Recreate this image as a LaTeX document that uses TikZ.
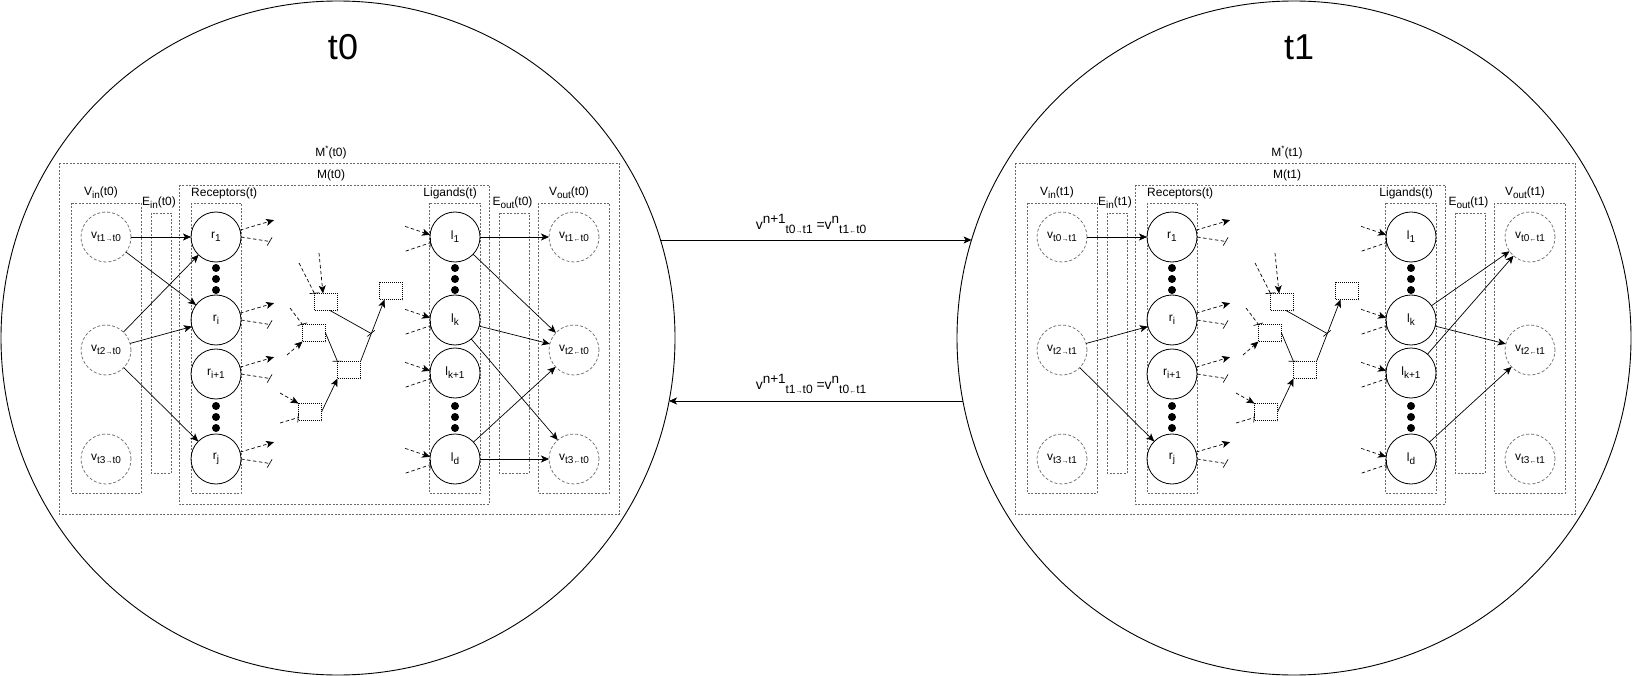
\documentclass[tikz,border=0pt]{standalone}
\usepackage{fontspec}
\setmainfont{Liberation Sans}
\usetikzlibrary{arrows.meta,calc}
\definecolor{boxgray}{RGB}{105,105,105}
\definecolor{vgray}{RGB}{120,120,120}
\newcommand\mysub[1]{\raisebox{-3pt}{\fontsize{10}{10}\selectfont #1}}
\newcommand\mysup[1]{\raisebox{4.5pt}{\fontsize{10}{10}\selectfont #1}}
\newcommand\bigsub[1]{\raisebox{-4pt}{\fontsize{12}{12}\selectfont #1}}
\newcommand\bigsup[1]{\raisebox{5.5pt}{\fontsize{13.5}{13.5}\selectfont #1}}
\newcommand\myrarr{{\fontsize{7}{7}\selectfont →}}
\newcommand\mylarr{{\fontsize{7}{7}\selectfont ←}}
\tikzset{
  myarr/.tip={Stealth[length=8pt,width=7pt,inset=2pt]},
  mytee/.tip={Bar[width=9pt,slant=0.4]},
  bigc/.style={circle,draw,line width=0.9pt,minimum size=674pt,inner sep=0pt,outer sep=0pt},
  grpbox/.style={draw=boxgray,line width=0.6pt,dash pattern=on 2pt off 1.5pt},
  vnode/.style={circle,draw=vgray,line width=0.8pt,dash pattern=on 3pt off 2pt,minimum size=50pt,inner sep=0pt,outer sep=0pt},
  mnode/.style={circle,draw,line width=0.8pt,minimum size=50pt,inner sep=0pt,outer sep=0pt},
  sbox/.style={draw,line width=0.7pt,dash pattern=on 1pt off 1pt,minimum width=23pt,minimum height=17pt,inner sep=0pt,outer sep=0pt},
  dotn/.style={circle,fill,inner sep=0pt,minimum size=8pt},
  edge/.style={line width=0.7pt},
  stub/.style={line width=0.7pt,dash pattern=on 3.5pt off 2.5pt},
  lbl/.style={inner sep=0pt},
}
% #1 prefix, #2 own time, #3 first other time, #4 xshift
\newcommand\halfpic[4]{%
\begin{scope}[xshift=#4]
\node[bigc] (#1circ) at (338,338) {};
\node[lbl] (#1title) at (343,47) {\fontsize{36}{40}\selectfont #2};
\draw[grpbox] (59,163) rectangle (619,514);
\node[lbl] (#1Mslab) at (331,152) {M\raisebox{5pt}{\fontsize{8}{8}\selectfont *}(#2)};
\draw[grpbox] (179,185) rectangle (489,504);
\node[lbl] (#1Mlab) at (331,175) {M(#2)};
\draw[grpbox] (71,203) rectangle (141,493);
\node[lbl] (#1Vinlab) at (101,193) {V\mysub{in}(#2)};
\draw[grpbox] (151,213) rectangle (171,473);
\node[lbl] (#1Einlab) at (159,203) {E\mysub{in}(#2)};
\draw[grpbox] (191,203) rectangle (241,493);
\node[lbl,anchor=west] (#1reclab) at (191,193) {Receptors(t)};
\draw[grpbox] (429,203) rectangle (480,493);
\node[lbl,anchor=east] (#1liglab) at (477,193) {Ligands(t)};
\draw[grpbox] (499,213) rectangle (529,473);
\node[lbl] (#1Eoutlab) at (512.5,203) {E\mysub{out}(#2)};
\draw[grpbox] (538,203) rectangle (609,493);
\node[lbl] (#1Voutlab) at (569,193) {V\mysub{out}(#2)};
% input / output variable nodes
\node[vnode] (#1v1) at (106,237) {v\mysub{#3\myrarr #2}};
\node[vnode] (#1v2) at (106,350) {v\mysub{t2\myrarr #2}};
\node[vnode] (#1v3) at (106,459) {v\mysub{t3\myrarr #2}};
\node[vnode] (#1vo1) at (574,237) {v\mysub{#3\mylarr #2}};
\node[vnode] (#1vo2) at (574,350) {v\mysub{t2\mylarr #2}};
\node[vnode] (#1vo3) at (574,459) {v\mysub{t3\mylarr #2}};
% receptors
\node[mnode] (#1r1) at (216,237) {r\mysub{1}};
\node[mnode] (#1ri) at (216,320) {r\mysub{i}};
\node[mnode] (#1ri1) at (216,374) {r\mysub{i+1}};
\node[mnode] (#1rj) at (216,459) {r\mysub{j}};
\node[dotn] (#1rda) at (216,268) {};
\node[dotn] (#1rdb) at (216,279) {};
\node[dotn] (#1rdc) at (216,290) {};
\node[dotn] (#1rdd) at (216,406) {};
\node[dotn] (#1rde) at (216,417) {};
\node[dotn] (#1rdf) at (216,428) {};
% ligands
\node[mnode] (#1l1) at (455,237) {l\mysub{1}};
\node[mnode] (#1lk) at (455,320) {l\mysub{k}};
\node[mnode] (#1lk1) at (455,373) {l\mysub{k+1}};
\node[mnode] (#1ld) at (455,459) {l\mysub{d}};
\node[dotn] (#1lda) at (455,268) {};
\node[dotn] (#1ldb) at (455,279) {};
\node[dotn] (#1ldc) at (455,290) {};
\node[dotn] (#1ldd) at (455,406) {};
\node[dotn] (#1lde) at (455,417) {};
\node[dotn] (#1ldf) at (455,428) {};
% receptor output stubs
\foreach \n in {r1,ri,ri1,rj}{
  \draw[stub,-myarr] (#1\n.16) -- ++(34,-10);
  \draw[stub,-mytee] (#1\n.east) -- ++(29,4.5);
}
% ligand input stubs
\foreach \n in {l1,lk,lk1,ld}{
  \draw[stub,-myarr] ($(#1\n.175)+(-25,-8.5)$) -- (#1\n.175);
  \draw[stub,-mytee] ($(#1\n.193)+(-25,8.5)$) -- (#1\n.193);
}
% internal network
\node[sbox] (#1A) at (326,302) {};
\node[sbox] (#1B) at (314,333) {};
\node[sbox] (#1C) at (349,370) {};
\node[sbox] (#1D) at (310,412) {};
\node[sbox] (#1E) at (391,291) {};
\draw[stub,-myarr] (319,253) -- ($(#1A.north)+(-3,0)$);
\draw[stub,-mytee] (299,263) -- (#1A.north west);
\draw[stub,-mytee] (290,308) -- (#1B.north west);
\draw[stub,-myarr] (287,355) -- (#1B.south west);
\draw[stub,-myarr] (280,393) -- (#1D.north west);
\draw[stub,-mytee] (280,423) -- ($(#1D.south west)+(0,-3)$);
\draw[edge,-mytee] (#1B.east) -- (#1C.north west);
\draw[edge,-myarr] (#1D.east) -- (#1C.south west);
\coordinate (#1Etip) at ($(#1E.south west)+(5,0)$);
\draw[edge,-myarr] (#1C.north east) -- (#1Etip);
\coordinate (#1ce) at ($(#1C.north east)!0.45!(#1Etip)$);
\draw[edge,-mytee] ($(#1A.south)+(4,0)$) -- (#1ce);
\end{scope}}
\begin{document}
\begin{tikzpicture}[x=1pt,y=-1pt,font=\fontsize{12}{14}\selectfont]
\useasboundingbox (0,0) rectangle (1632,676);
\halfpic{a}{t0}{t1}{0pt}
\halfpic{b}{t1}{t0}{956pt}
% t0 specific edges
\draw[edge,-myarr] (av1) -- (ar1);
\draw[edge,-myarr] (av1) -- (ari);
\draw[edge,-myarr] (av2) -- (ar1);
\draw[edge,-myarr] (av2) -- (ari);
\draw[edge,-myarr] (av2) -- (arj);
\draw[edge,-myarr] (al1) -- (avo1);
\draw[edge,-myarr] (al1) -- (avo2);
\draw[edge,-myarr] (alk) -- (avo2);
\draw[edge,-myarr] (alk) -- (avo3);
\draw[edge,-myarr] (ald) -- (avo2);
\draw[edge,-myarr] (ald) -- (avo3);
% t1 specific edges
\draw[edge,-myarr] (bv1) -- (br1);
\draw[edge,-myarr] (bv2) -- (bri);
\draw[edge,-myarr] (bv2) -- (brj);
\draw[edge,-myarr] (blk) -- (bvo1);
\draw[edge,-myarr] (blk) -- (bvo2);
\draw[edge,-myarr] (blk1) -- (bvo1);
\draw[edge,-myarr] (bld) -- (bvo2);
% exchange between time steps
\coordinate (xa1) at ($(acirc.center)+(322.4,-98)$);
\coordinate (xb1) at ($(bcirc.center)+(-322.4,-98)$);
\coordinate (xa2) at ($(acirc.center)+(331,63)$);
\coordinate (xb2) at ($(bcirc.center)+(-331,63)$);
\draw[edge,-myarr] (xa1) -- (xb1);
\draw[edge,-myarr] (xb2) -- (xa2);
\node[lbl] (xlab1) at (811,224) {\fontsize{14}{16}\selectfont v\bigsup{n+1}\bigsub{t0\myrarr t1} =v\bigsup{n}\bigsub{t1\mylarr t0}};
\node[lbl] (xlab2) at (811,384) {\fontsize{14}{16}\selectfont v\bigsup{n+1}\bigsub{t1\myrarr t0} =v\bigsup{n}\bigsub{t0\mylarr t1}};
\end{tikzpicture}
\end{document}
